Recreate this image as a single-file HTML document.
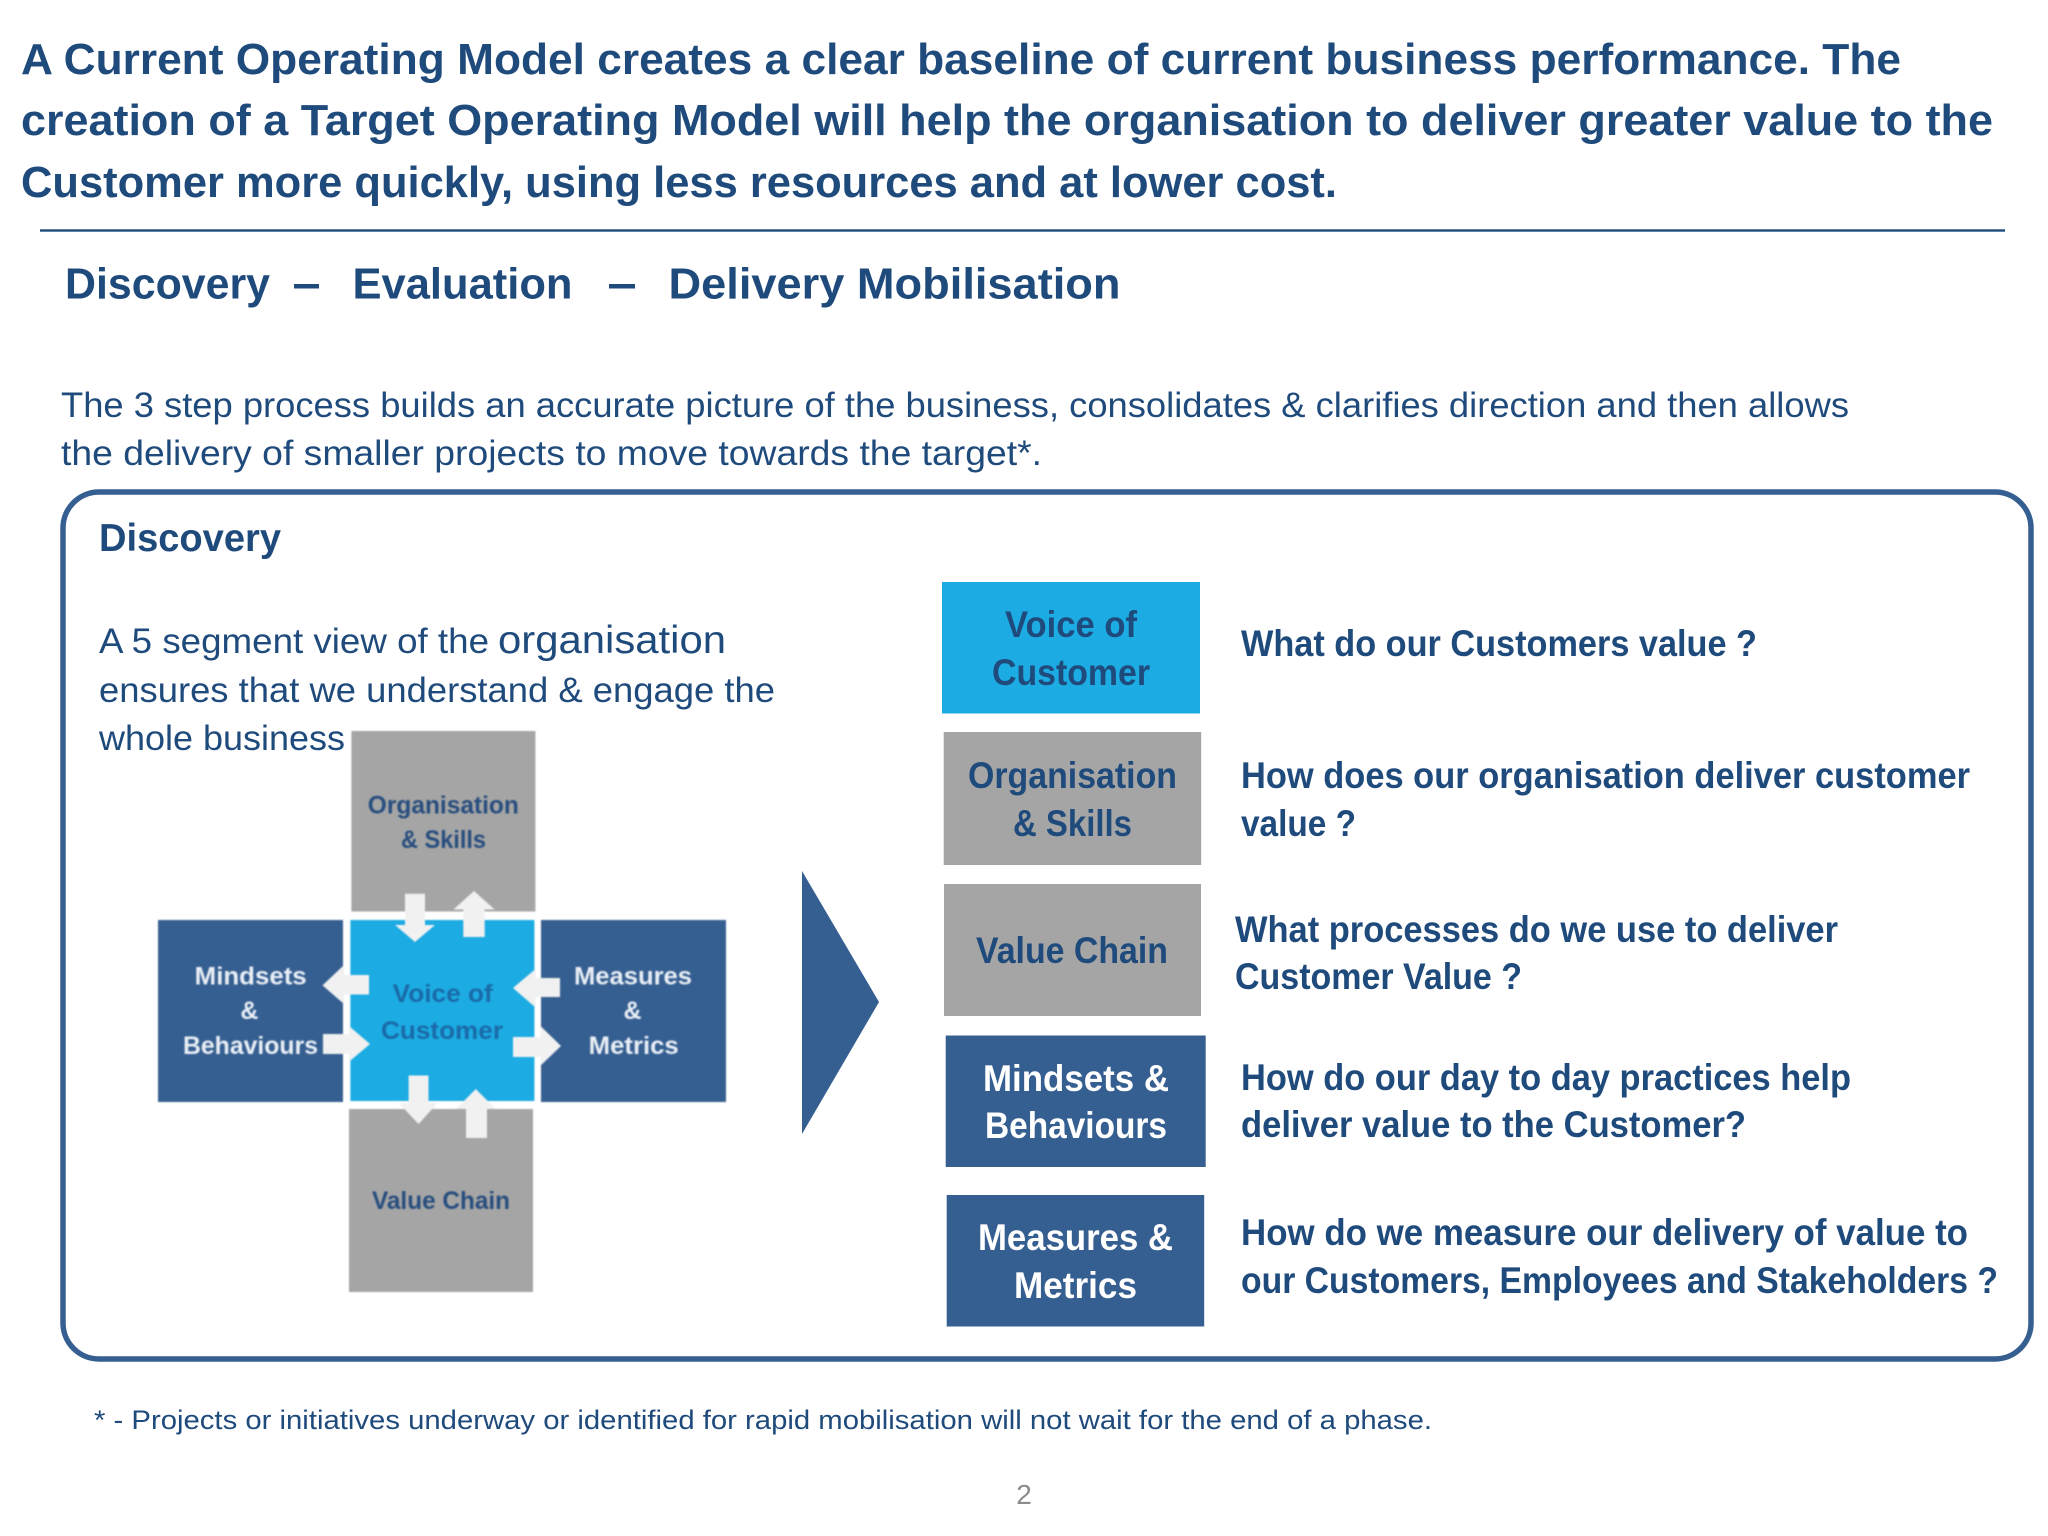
<!DOCTYPE html>
<html><head><meta charset="utf-8"><style>
html,body{margin:0;padding:0;background:#fff}
svg{display:block}
text{font-family:"Liberation Sans",sans-serif}
</style></head><body>
<svg width="2048" height="1536" viewBox="0 0 2048 1536" xmlns="http://www.w3.org/2000/svg">
<rect width="2048" height="1536" fill="#fff"/>
<g font-weight="bold" fill="#1f4a7c" font-size="44">
<text x="21" y="74" textLength="1880" lengthAdjust="spacingAndGlyphs">A Current Operating Model creates a clear baseline of current business performance. The</text>
<text x="21" y="135" textLength="1972" lengthAdjust="spacingAndGlyphs">creation of a Target Operating Model will help the organisation to deliver greater value to the</text>
<text x="21" y="197" textLength="1316" lengthAdjust="spacingAndGlyphs">Customer more quickly, using less resources and at lower cost.</text>
</g>
<rect x="40" y="229.3" width="1965" height="2.4" fill="#1f4a7c"/>
<g font-weight="bold" fill="#1f4a7c" font-size="44">
<text x="65" y="298.5" textLength="205" lengthAdjust="spacingAndGlyphs">Discovery</text>
<rect x="294" y="284" width="25" height="4.5"/>
<text x="352.5" y="298.5" textLength="220" lengthAdjust="spacingAndGlyphs">Evaluation</text>
<rect x="609" y="284" width="26" height="4.5"/>
<text x="668.5" y="298.5" textLength="452" lengthAdjust="spacingAndGlyphs">Delivery Mobilisation</text>
</g>
<g fill="#1f4a7c" font-size="35">
<text x="61" y="417" textLength="1788" lengthAdjust="spacingAndGlyphs">The 3 step process builds an accurate picture of the business, consolidates &amp; clarifies direction and then allows</text>
<text x="61" y="465" textLength="981" lengthAdjust="spacingAndGlyphs">the delivery of smaller projects to move towards the target*.</text>
</g>
<rect x="63" y="492" width="1968" height="867" rx="36" ry="36" fill="#fff" stroke="#365f91" stroke-width="5.5"/>
<text x="99" y="551" font-weight="bold" fill="#1f4a7c" font-size="39" textLength="182" lengthAdjust="spacingAndGlyphs">Discovery</text>
<g fill="#1f4a7c" font-size="35">
<text x="99" y="653" textLength="390" lengthAdjust="spacingAndGlyphs">A 5 segment view of the</text>
<text x="498" y="653" font-size="39" textLength="228" lengthAdjust="spacingAndGlyphs">organisation</text>
<text x="99" y="702" textLength="676" lengthAdjust="spacingAndGlyphs">ensures that we understand &amp; engage the</text>
<text x="99" y="750" textLength="246" lengthAdjust="spacingAndGlyphs">whole business</text>
</g>
<!-- small diagram -->
<g style="filter:blur(0.7px)">
<rect x="351.4" y="731" width="184" height="180.5" fill="#a5a5a5"/>
<rect x="350.4" y="920" width="184" height="181" fill="#1cabe2"/>
<rect x="158" y="920" width="185" height="182" fill="#365f91"/>
<rect x="541" y="920" width="185" height="182" fill="#365f91"/>
<rect x="349" y="1109" width="184" height="183" fill="#a5a5a5"/>
<g fill="#f1f1f1">
<polygon points="405,893.7 425,893.7 425,925 435,925 415,942 395,925 405,925"/>
<polygon points="474,891 494.7,909.5 484.7,909.5 484.7,937 463.3,937 463.3,909.5 453.4,909.5"/>
<polygon points="322.5,985.4 344,965 344,975 369,975 369,994.5 344,994.5 344,1004"/>
<polygon points="323,1034 349,1034 349,1026 370,1044 349,1061.7 349,1054 323,1054"/>
<polygon points="513,988 535.5,969 535.5,978 560,978 560,997 535.5,997 535.5,1007.5"/>
<polygon points="513,1037 540.5,1037 540.5,1026 561,1046 540.5,1065.6 540.5,1057 513,1057"/>
<polygon points="408.6,1075.5 428.5,1075.5 428.5,1103 437.5,1103 418.6,1124 398.7,1103 408.6,1103"/>
<polygon points="475.8,1089 495.7,1109 487,1109 487,1138 466,1138 466,1109 456,1109"/>
</g>
<g font-weight="bold" font-size="25">
<g fill="#284e7e">
<text x="367.8" y="813.4" textLength="151" lengthAdjust="spacingAndGlyphs">Organisation</text>
<text x="401" y="848" textLength="85" lengthAdjust="spacingAndGlyphs">&amp; Skills</text>
<text x="372" y="1209" textLength="138" lengthAdjust="spacingAndGlyphs">Value Chain</text>
</g>
<g fill="#1a6aa8">
<text x="392.7" y="1002" textLength="100" lengthAdjust="spacingAndGlyphs">Voice of</text>
<text x="381" y="1039" textLength="122" lengthAdjust="spacingAndGlyphs">Customer</text>
</g>
<g fill="#e8eef5">
<text x="194.7" y="984.6" textLength="112" lengthAdjust="spacingAndGlyphs">Mindsets</text>
<text x="240.4" y="1019" textLength="18" lengthAdjust="spacingAndGlyphs">&amp;</text>
<text x="183" y="1054" textLength="135" lengthAdjust="spacingAndGlyphs">Behaviours</text>
<text x="574" y="984.6" textLength="118" lengthAdjust="spacingAndGlyphs">Measures</text>
<text x="623.5" y="1019" textLength="18" lengthAdjust="spacingAndGlyphs">&amp;</text>
<text x="588.7" y="1054" textLength="90" lengthAdjust="spacingAndGlyphs">Metrics</text>
</g>
</g>
</g>
<polygon points="802,871 879,1002 802,1134" fill="#365f91"/>
<!-- right boxes -->
<rect x="942" y="582" width="258" height="131.5" fill="#1cabe2"/>
<rect x="943.7" y="732" width="257.5" height="133" fill="#a5a5a5"/>
<rect x="944" y="884" width="257" height="132" fill="#a5a5a5"/>
<rect x="945.7" y="1035.5" width="260" height="131.5" fill="#365f91"/>
<rect x="946.7" y="1195" width="257.5" height="131.5" fill="#365f91"/>
<g font-weight="bold" font-size="37" fill="#1f4a7c">
<text x="1005" y="637" textLength="132" lengthAdjust="spacingAndGlyphs">Voice of</text>
<text x="992" y="685" textLength="158" lengthAdjust="spacingAndGlyphs">Customer</text>
<text x="968" y="788" textLength="209" lengthAdjust="spacingAndGlyphs">Organisation</text>
<text x="1013" y="836" textLength="119" lengthAdjust="spacingAndGlyphs">&amp; Skills</text>
<text x="976" y="963" textLength="192" lengthAdjust="spacingAndGlyphs">Value Chain</text>
</g>
<g font-weight="bold" font-size="37" fill="#fff">
<text x="983" y="1091" textLength="186" lengthAdjust="spacingAndGlyphs">Mindsets &amp;</text>
<text x="985" y="1138" textLength="182" lengthAdjust="spacingAndGlyphs">Behaviours</text>
<text x="978" y="1250" textLength="195" lengthAdjust="spacingAndGlyphs">Measures &amp;</text>
<text x="1014" y="1298" textLength="123" lengthAdjust="spacingAndGlyphs">Metrics</text>
</g>
<g font-weight="bold" font-size="37" fill="#1f4a7c">
<text x="1241" y="656" textLength="516" lengthAdjust="spacingAndGlyphs">What do our Customers value ?</text>
<text x="1241" y="788" textLength="729" lengthAdjust="spacingAndGlyphs">How does our organisation deliver customer</text>
<text x="1241" y="836" textLength="115" lengthAdjust="spacingAndGlyphs">value ?</text>
<text x="1235" y="942" textLength="603" lengthAdjust="spacingAndGlyphs">What processes do we use to deliver</text>
<text x="1235" y="989" textLength="287" lengthAdjust="spacingAndGlyphs">Customer Value ?</text>
<text x="1241" y="1090" textLength="610" lengthAdjust="spacingAndGlyphs">How do our day to day practices help</text>
<text x="1241" y="1137" textLength="505" lengthAdjust="spacingAndGlyphs">deliver value to the Customer?</text>
<text x="1241" y="1245" textLength="727" lengthAdjust="spacingAndGlyphs">How do we measure our delivery of value to</text>
<text x="1241" y="1293" textLength="757" lengthAdjust="spacingAndGlyphs">our Customers, Employees and Stakeholders ?</text>
</g>
<text x="94" y="1429" fill="#1f4a7c" font-size="27" textLength="1338" lengthAdjust="spacingAndGlyphs">* - Projects or initiatives underway or identified for rapid mobilisation will not wait for the end of a phase.</text>
<text x="1024" y="1504" fill="#8b8b8b" font-size="28" text-anchor="middle">2</text>
</svg>
</body></html>
